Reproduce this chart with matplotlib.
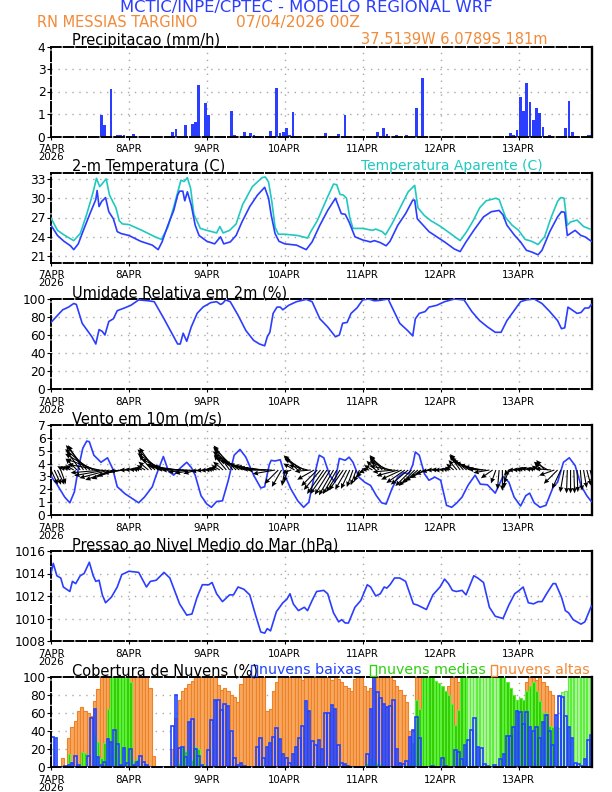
import numpy as np
import matplotlib
matplotlib.use("Agg")
import matplotlib.pyplot as plt

# ---------------- data ----------------
day_ticks = [0, 24, 48, 72, 96, 120, 144]
day_labels = ["7APR\n2026", "8APR", "9APR", "10APR", "11APR", "12APR", "13APR"]

# precipitation (mm/h): hour -> value, only non zero bars
prec_hour = [15, 16, 18, 20, 21, 22, 25, 37, 38, 41, 43, 44, 45, 47, 48, 55, 56, 59, 61, 62,
             67, 69, 70, 71, 72, 73, 74, 84, 88, 90, 100, 102, 103, 106, 109, 112, 114,
             141, 142, 143, 144, 145, 146, 147, 148, 149, 150, 151, 153, 158, 159, 160, 165, 166]
prec_val = [0.95, 0.5, 2.1, 0.05, 0.05, 0.05, 0.1, 0.2, 0.35, 0.5, 0.55, 0.65, 2.28, 1.5, 0.95, 1.15, 0.05, 0.2, 0.15, 0.05,
            0.25, 2.15, 0.15, 0.2, 0.4, 0.05, 1.1, 0.15, 0.1, 0.95, 0.2, 0.4, 0.1, 0.05, 0.05, 1.25, 2.6,
            0.15, 0.05, 0.3, 1.75, 1.15, 2.38, 1.55, 0.75, 1.28, 1.05, 0.42, 0.05, 0.38, 1.58, 0.2, 0.05, 0.08]

# 2 m temperature (C)
temp_t = [0, 2, 4, 6, 7, 8.4, 10.2, 12, 13.8, 14.2, 14.8, 15.6, 16.8, 17.8, 19.2, 20.4, 21.6, 24, 27.6, 31.2, 33,
          34.2, 36, 37.8, 39, 39.6, 40.6, 41.2, 42, 43.2, 44.4, 45.6, 48, 50.4, 52.2, 53.2, 55.2, 57, 58.8, 61.2,
          63.6, 65.8, 67, 67.8, 69, 70.2, 72, 75.6, 78.6, 80.4, 82.8, 85.2, 87.6, 89.4, 90.6, 91.8, 93.6, 96, 98.4,
          99.6, 101.4, 103.2, 104.4, 106.8, 109.2, 111.4, 112, 112.8, 114.6, 116.4, 118.8, 121.2, 124.2, 126, 127.8,
          130.2, 133.2, 135.6, 138, 139.2, 140.4, 142.8, 144.6, 146.4, 148.2, 150, 151.2, 153.6, 156, 157.2, 158.2,
          159, 160.2, 161.4, 163.2, 164.4, 166.4]
temp_v = [25.8, 24.2, 23.3, 22.6, 22.0, 22.9, 25.3, 27.6, 29.8, 31.2, 28.7, 29.5, 30.1, 27.9, 26.8, 24.8, 24.5, 24.2, 23.3, 22.7, 22.0,
          23.2, 25.8, 28.1, 30.5, 31.1, 31.1, 29.6, 31.0, 28.9, 25.8, 24.2, 23.3, 22.9, 24.0, 22.9, 23.2, 24.2, 26.3, 28.7,
          30.5, 31.7, 30.0, 27.4, 24.5, 23.3, 22.9, 22.7, 22.0, 23.2, 25.8, 28.1, 30.0, 27.6, 27.5, 26.3, 24.0, 23.5, 23.2,
          23.4, 23.1, 22.6, 23.3, 25.8, 27.6, 29.7, 29.7, 26.8, 25.8, 24.8, 24.0, 23.2, 22.1, 21.7, 23.2,
          25.0, 27.1, 27.9, 28.1, 27.4, 25.8, 24.2, 23.2, 21.9, 21.6, 21.2, 21.9, 24.8, 27.1, 27.9, 27.8,
          24.2, 24.6, 25.0, 24.2, 24.0, 23.3]

# apparent temperature (C)
tapp_t = [0, 2, 4, 7, 9, 11, 13, 14, 15, 17, 18, 20, 21, 22, 24, 28, 32, 34, 36, 38, 40, 41, 42, 43, 44, 46, 48, 51,
          52, 53, 55, 57, 59, 62, 65, 66, 67, 68, 69, 70, 72, 76, 79, 80, 82, 85, 87, 88, 89, 90, 91, 92, 93, 96, 99,
          100, 102, 103, 105, 108, 110, 112, 113, 115, 117, 120, 123, 126, 128, 130, 132, 134, 137, 138, 140, 142,
          144, 146, 148, 150, 152, 154, 156, 157, 158, 159, 160, 162, 164, 166]
tapp_v = [26.9, 25.0, 24.3, 23.4, 24.5, 27.5, 31.0, 33.1, 31.8, 33.0, 30.5, 28.5, 26.5, 26.0, 25.9, 25.0, 24.0, 23.6,
          25.5, 29.0, 32.8, 32.6, 33.2, 31.5, 27.5, 25.3, 25.0, 24.6, 25.6, 24.6, 25.0, 26.0, 29.0, 31.8, 33.2, 33.3,
          32.5, 29.5, 25.5, 24.4, 24.4, 24.2, 23.8, 24.8, 26.5, 30.0, 32.2, 32.1, 30.6, 30.5, 30.0, 27.0, 25.3, 25.3,
          25.0, 25.2, 24.8, 24.3, 26.0, 29.0, 31.0, 32.0, 28.5, 27.3, 26.5, 25.6, 24.5, 23.4, 24.8, 26.5, 28.5, 29.6,
          30.0, 29.8, 27.0, 25.8, 25.0, 23.6, 23.3, 22.8, 24.0, 27.0, 29.5, 30.1, 30.0, 25.8, 26.3, 26.6, 25.6, 25.2]

# relative humidity (%)
rh_t = [0, 1.8, 3.6, 5.4, 7, 7.8, 9.6, 10.8, 12.6, 13.8, 14.8, 15.8, 16.6, 17.8, 19.2, 20.4, 22.6, 24.6, 27, 30,
        31.8, 34.8, 37.2, 39, 39.8, 40.7, 41.8, 43.2, 45, 46.8, 49.2, 51, 52.2, 52.8, 53.8, 55.2, 57.6, 60, 62.4,
        64.2, 65.8, 66.6, 67.4, 68.4, 69.6, 70.6, 71.4, 73.2, 75.6, 78.6, 80.4, 82.8, 85.2, 87.6, 88.8, 89.8, 91.2,
        92.4, 94.2, 96, 97.8, 99.6, 101.4, 103.8, 105, 107.4, 109.8, 111.4, 112.2, 113.4, 115.2, 116.4, 118.8,
        121.2, 124.2, 127.2, 129.6, 132, 134.4, 136.8, 138.6, 140.4, 142.8, 144.6, 146.4, 148.8, 151.2, 153.6,
        156, 157.2, 158.2, 159.2, 160.8, 162, 163.2, 164.4, 165.6, 166.4]
rh_v = [74, 81, 88, 91, 95, 94, 73, 67, 58, 50, 66, 64, 60, 75, 78, 87, 90, 93, 99, 98,
        97, 78, 62, 50, 50, 62, 53, 69, 84, 91, 96, 97, 94, 95, 99, 97, 82, 65, 54,
        50, 48, 58, 63, 84, 91, 91, 88, 93, 97, 99.6, 97, 78, 69, 58, 60, 73, 74,
        84, 90, 99, 100, 98, 98.5, 100, 91, 73, 65, 59, 78, 84, 86, 91, 93,
        97, 100, 99, 86, 76, 69, 63, 63, 76, 88, 97, 99, 100, 95, 86,
        76, 67, 68, 91, 87, 84, 85, 90, 90, 94]

# wind speed at 10 m (m/s)
ws_t = [0, 1.8, 4.2, 5.8, 7.2, 8.4, 9.8, 11, 11.8, 13.2, 15.4, 17.4, 19, 20.4, 22.8, 25.2, 27, 28.8, 31.2, 32.4,
        34.6, 36.2, 37.8, 39.6, 41.8, 43.2, 44.4, 46.2, 48, 49.4, 51, 52.8, 54.6, 56.4, 58.2, 60, 62.4, 64.6,
        65.8, 67.2, 67.8, 69, 70.6, 72, 73.8, 76, 77.8, 79.4, 81, 82.6, 84, 85.8, 87.4, 88.8, 90.6, 91.8, 93,
        94.8, 96.6, 98.4, 100.2, 101.8, 103.2, 105, 106.8, 108.6, 110.2, 111.4, 112.2, 113.4, 115, 116.4, 118.2,
        120, 121.8, 123.4, 125, 126.6, 128.4, 130.6, 132.2, 134.4, 136.8, 139.2, 141, 142.6, 144.6, 146.2,
        147.4, 148.8, 150.6, 152.4, 154.6, 156, 157.8, 159.6, 161.4, 163.2, 165, 166.4]
ws_v = [3.0, 2.4, 1.4, 0.95, 1.8, 3.6, 5.2, 5.75, 5.7, 4.65, 4.1, 4.45, 3.6, 2.2, 1.65, 1.25, 0.95, 1.4, 2.2, 3.1,
        4.55, 3.4, 3.1, 3.6, 4.1, 3.7, 3.1, 1.5, 0.85, 0.6, 1.05, 1.1, 2.7, 4.65, 5.1, 4.5, 3.1, 2.1,
        2.2, 3.9, 4.25, 4.2, 4.3, 3.1, 2.05, 1.1, 0.6, 1.0, 2.95, 4.65, 4.45, 3.1, 2.55, 4.4, 4.25, 4.5, 4.1,
        2.95, 2.55, 2.3, 1.5, 0.95, 0.85, 2.05, 2.95, 3.3, 3.2, 3.9, 4.9, 4.65, 3.2, 2.7, 2.95,
        2.7, 0.75, 0.6, 0.95, 1.4, 2.3, 3.1, 2.4, 2.35, 1.7, 3.0, 2.55, 1.4, 0.7, 1.5,
        1.7, 0.95, 0.6, 0.75, 2.15, 2.55, 4.1, 4.45, 3.85, 2.3, 1.5, 1.05]

# hourly wind vectors: direction the arrow points (deg, 0 = east, 90 = north) and length (m/s)
vec_dir = [295, 295, 295, 290, 150, 150, 150, 150, 135, 125, 122, 130, 140, 150, 160, 170, 185, 190, 195, 200, 200, 195, 190, 185,
           180, 175, 170, 165, 160, 150, 140, 130, 125, 135, 145, 155, 165, 170, 170, 172, 175, 178, 180, 185, 190, 195, 190, 185,
           185, 175, 165, 160, 150, 140, 130, 125, 128, 135, 145, 152, 158, 162, 165, 168, 170, 172, 175, 178, 180, 190, 225, 240,
           260, 250, 200, 150, 135, 140, 150, 165, 185, 210, 225, 230, 235, 235, 238, 240, 240, 238, 235, 240, 245, 250, 250, 245,
           230, 200, 170, 150, 135, 125, 130, 140, 155, 170, 185, 195, 205, 215, 220, 225, 225, 220, 215, 210, 200, 190, 180, 175,
           180, 170, 160, 150, 140, 130, 125, 130, 140, 148, 155, 160, 165, 170, 178, 190, 215, 250, 265, 270, 265, 250, 210, 180,
           175, 170, 165, 160, 160, 155, 145, 135, 130, 150, 175, 200, 225, 245, 260, 268, 270, 272, 272, 275, 280, 285, 285]
vec_spd = [2.5, 2.5, 2.5, 2.3, 1.2, 1.2, 1.2, 1.5, 2.5, 3.5, 4.5, 5.0, 5.0, 5.0, 5.0, 5.0, 5.0, 5.0, 4.8, 4.5, 4.0, 3.5, 3.0, 2.5,
           1.5, 1.2, 1.0, 1.0, 1.2, 1.5, 2.0, 3.0, 4.2, 4.5, 4.5, 4.0, 3.5, 3.5, 3.5, 3.8, 4.0, 4.2, 4.0, 3.5, 3.0, 2.2, 1.5, 1.2,
           1.0, 0.9, 1.0, 1.2, 1.5, 2.0, 3.0, 4.0, 4.8, 5.0, 5.0, 5.0, 5.0, 4.8, 4.5, 4.2, 4.0, 4.0, 4.0, 4.0, 3.8, 3.5, 3.0, 3.0,
           2.5, 2.0, 1.5, 2.0, 3.0, 3.5, 3.5, 3.0, 2.5, 3.0, 3.5, 4.0, 4.5, 4.5, 4.5, 4.5, 4.3, 4.0, 3.8, 3.5, 3.2, 2.8, 2.5, 2.0,
           1.5, 1.2, 1.2, 1.5, 2.0, 2.5, 3.0, 3.2, 3.2, 3.5, 3.5, 3.5, 3.5, 3.5, 3.5, 3.5, 3.5, 3.2, 3.0, 2.5, 2.0, 1.5, 1.2, 1.0,
           1.0, 0.8, 0.8, 1.0, 1.5, 2.0, 2.8, 3.2, 3.5, 3.5, 3.5, 3.5, 3.2, 3.0, 2.8, 2.5, 2.2, 2.2, 3.0, 3.2, 2.8, 2.2, 1.5, 1.2,
           1.0, 1.0, 1.2, 1.2, 1.0, 1.0, 1.2, 1.5, 2.0, 2.5, 2.5, 2.5, 3.0, 3.2, 3.5, 3.6, 3.6, 3.6, 3.4, 3.2, 2.8, 2.5, 2.2]

# mean sea level pressure (hPa)
slp_t = [0, 0.7, 1.8, 3, 3.8, 5.8, 6.6, 7.6, 9, 10.2, 11.8, 13, 13.8, 14.8, 15.8, 16.8, 18.6, 20.4, 21.8, 24, 27,
         29.4, 30.6, 32.4, 34.8, 36.6, 39.6, 41.8, 43.4, 45, 46.6, 48.6, 49.6, 51, 52.8, 55, 56.2, 57.6, 59.4, 61.2,
         63, 64.6, 65.8, 66.6, 67.6, 69.4, 71.4, 72.6, 73.6, 74.6, 76.2, 78, 79, 80.4, 81.8, 84, 85.2, 87, 88.6,
         89.5, 90.6, 91.6, 93.6, 95.4, 97.4, 98.4, 100, 101.4, 102.6, 103.4, 104.4, 105.8, 107.4, 109.2, 111.6,
         112.8, 114.2, 115.6, 117.6, 119.8, 121.2, 122.4, 123.6, 124.8, 126.6, 127.8, 130.2, 131.4, 133.2, 135,
         136.8, 139.2, 141, 142.8, 144.2, 145.4, 147, 148.6, 150, 151.2, 152.4, 154.6, 155.4, 157.2, 158.4,
         159.4, 160.8, 163.2, 164.4, 166.4]
slp_v = [1014.0, 1014.9, 1013.8, 1013.6, 1012.8, 1012.4, 1013.3, 1013.1, 1013.8, 1014.0, 1015.0, 1013.8, 1013.3,
         1013.4, 1012.1, 1011.4, 1011.9, 1012.8, 1013.9, 1014.2, 1014.1, 1012.8, 1013.3, 1013.4, 1014.1, 1013.6,
         1011.3, 1010.3, 1010.4, 1011.9, 1013.0, 1013.0, 1013.2, 1012.2, 1011.5, 1012.1, 1012.1, 1012.8, 1012.6,
         1012.1, 1010.3, 1008.8, 1008.7, 1009.1, 1008.9, 1010.6, 1011.4, 1011.7, 1012.2, 1011.3, 1010.7, 1011.0,
         1010.7, 1011.6, 1012.4, 1012.5, 1012.2, 1010.5, 1009.7, 1009.9, 1009.6, 1009.6, 1011.0, 1011.6, 1013.0,
         1012.8, 1012.0, 1012.2, 1012.8, 1012.7, 1013.0, 1013.6, 1013.6, 1013.3, 1011.3, 1011.2, 1011.0, 1010.8,
         1012.1, 1012.8, 1013.5, 1013.1, 1012.5, 1012.4, 1012.5, 1012.1, 1013.8, 1013.6, 1013.2, 1011.0, 1010.2,
         1010.0, 1011.2, 1012.2, 1012.5, 1012.8, 1011.4, 1011.3, 1011.5, 1011.5, 1012.1, 1013.1, 1013.1, 1011.9,
         1010.7, 1010.5, 1009.9, 1009.5, 1009.7, 1011.1]

# cloud cover (%), hourly from 7APR 00Z
cld_low = [33, 32, 0, 0, 1, 2, 5, 12, 2, 0, 0, 12, 55, 65, 11, 2, 6, 31, 28, 41, 26, 2, 21, 4,
           20, 2, 6, 12, 6, 2, 0, 0, 0, 0, 0, 0, 0, 46, 80, 21, 22, 11, 50, 53, 20, 12, 2, 0,
           19, 52, 75, 75, 63, 70, 68, 40, 10, 2, 4, 1, 0, 0, 0, 22, 32, 10, 22, 27, 33, 43, 31, 14,
           10, 5, 15, 22, 32, 46, 73, 62, 29, 25, 30, 20, 60, 60, 69, 65, 24, 5, 3, 1, 0, 0, 0, 0,
           0, 15, 64, 100, 83, 77, 70, 67, 68, 74, 20, 5, 3, 7, 33, 41, 56, 32, 0, 0, 0, 1, 0, 0,
           10, 1, 0, 0, 19, 17, 9, 24, 30, 41, 54, 22, 21, 3, 1, 0, 2, 0, 9, 15, 34, 35, 45, 62,
           61, 48, 61, 45, 40, 44, 32, 50, 58, 40, 25, 58, 79, 78, 57, 45, 32, 5, 3, 1, 9, 30, 36, 45]
cld_mid = [0, 0, 0, 0, 0, 14, 0, 0, 0, 17, 16, 0, 0, 37, 28, 10, 27, 65, 100, 100, 100, 100, 100, 100,
           95, 7, 9, 2, 0, 0, 0, 0, 0, 0, 0, 0, 0, 0, 12, 5, 22, 18, 20, 8, 22, 20, 3, 2,
           0, 0, 2, 0, 0, 0, 0, 0, 0, 0, 0, 0, 0, 0, 0, 0, 0, 0, 0, 0, 0, 0, 0, 0,
           0, 0, 0, 0, 0, 0, 0, 0, 0, 0, 5, 0, 0, 0, 0, 5, 0, 0, 0, 0, 0, 0, 0, 0,
           0, 5, 10, 8, 5, 3, 2, 0, 0, 0, 0, 0, 0, 2, 5, 27, 74, 65, 100, 100, 100, 100, 96, 93,
           90, 85, 80, 70, 47, 63, 100, 100, 100, 100, 100, 100, 100, 100, 100, 100, 100, 100, 100, 100, 95, 88, 80, 74,
           77, 74, 85, 90, 94, 85, 73, 60, 60, 46, 45, 45, 43, 83, 85, 100, 100, 100, 100, 100, 100, 100, 100, 100]
cld_high = [0, 0, 0, 10, 0, 32, 44, 51, 62, 67, 62, 60, 57, 73, 87, 100, 100, 100, 100, 100, 100, 100, 100, 100,
            100, 100, 100, 100, 100, 100, 88, 12, 0, 0, 0, 0, 0, 20, 55, 75, 85, 88, 92, 96, 100, 100, 100, 100,
            100, 100, 100, 91, 86, 88, 85, 80, 78, 72, 92, 100, 100, 100, 100, 100, 100, 100, 62, 65, 85, 95, 100, 100,
            100, 100, 100, 100, 100, 97, 100, 100, 100, 100, 100, 100, 100, 100, 97, 100, 98, 95, 90, 88, 85, 98, 100, 100,
            90, 85, 88, 100, 100, 100, 100, 100, 100, 97, 90, 86, 80, 72, 40, 20, 100, 100, 100, 98, 95, 90, 88, 85,
            82, 85, 90, 100, 100, 95, 90, 85, 0, 0, 0, 0, 0, 0, 0, 0, 0, 0, 80, 85, 90, 85, 80, 75,
            70, 70, 95, 100, 100, 97, 100, 95, 90, 85, 80, 0, 0, 0, 0, 0, 0, 0, 0, 0, 0, 0, 0, 0]

# ---------------- styling ----------------
BLUE = "#2b3dff"
ORANGE = "#f28a38"
CYAN = "#20c8c0"
GRID = "#a8a8a8"
XMAX = 166.6
TICKFONT = dict(fontsize=8.2, fontstretch='condensed')

plt.rcParams['font.family'] = ['DejaVu Sans']

fig = plt.figure(figsize=(6.12, 7.92), dpi=100)
W, H = 612.0, 792.0
L, R = 51.0, 592.0
tops = [46.5, 172.5, 299.0, 425.0, 551.0, 677.0]
PH = 90.0


def make_ax(top, ylim, yticks):
    ax = fig.add_axes([L / W, 1 - (top + PH) / H, (R - L) / W, PH / H])
    ax.set_xlim(0, XMAX)
    ax.set_ylim(*ylim)
    ax.set_yticks(yticks)
    ax.set_yticklabels([str(t) for t in yticks], fontsize=8.8)
    ax.set_xticks(day_ticks)
    ax.set_xticklabels(day_labels, linespacing=0.78, **TICKFONT)
    ax.tick_params(axis='y', length=3, width=0.8, pad=1)
    ax.tick_params(axis='x', length=2, width=0.8, pad=3.5)
    # dotted grid, skip the frame lines
    for d in day_ticks[1:]:
        ax.axvline(d, color=GRID, lw=1.0, ls=(0, (1, 4)), zorder=0.5)
    for yv in yticks:
        if ylim[0] < yv < ylim[1]:
            ax.axhline(yv, color=GRID, lw=1.0, ls=(0, (1, 4)), zorder=0.5)
    for s in ['left', 'top', 'bottom']:
        ax.spines[s].set_linestyle((0, (5, 1.5)))
        ax.spines[s].set_linewidth(1.4)
    ax.spines['right'].set_linewidth(1.7)
    return ax


def title(top, txt, x=72, color='black', size=10.5):
    fig.text(x / W, 1 - (top - 6.5) / H, txt, color=color, fontsize=size,
             va='center', ha='left')


# header
fig.text(306 / W, 1 - 7.5 / H, "MCTIC/INPE/CPTEC - MODELO REGIONAL WRF", color=BLUE,
         fontsize=11.8, ha='center', va='center')
fig.text(37 / W, 1 - 22.5 / H, "RN MESSIAS TARGINO", color=ORANGE, fontsize=10.5, va='center')
fig.text(236 / W, 1 - 22.5 / H, "07/04/2026 00Z", color=ORANGE, fontsize=11.2, va='center')

# 1 precipitation
ax1 = make_ax(tops[0], (0, 4), [0, 1, 2, 3, 4])
ax1.bar(np.array(prec_hour) + 0.5, prec_val, width=0.85, color=BLUE, linewidth=0, zorder=2)
title(tops[0], "Precipitacao (mm/h)")
title(tops[0], "37.5139W 6.0789S 181m", x=361, color=ORANGE)

# 2 temperature
ax2 = make_ax(tops[1], (20, 34), [21, 24, 27, 30, 33])
ax2.plot(tapp_t, tapp_v, color=CYAN, lw=1.2, zorder=3)
ax2.plot(temp_t, temp_v, color=BLUE, lw=1.2, zorder=3)
title(tops[1], "2-m Temperatura (C)")
title(tops[1], "Temperatura Aparente (C)", x=361, color=CYAN, size=10)

# 3 relative humidity
ax3 = make_ax(tops[2], (0, 100), [0, 20, 40, 60, 80, 100])
ax3.plot(rh_t, rh_v, color=BLUE, lw=1.2, zorder=3)
title(tops[2], "Umidade Relativa em 2m (%)")

# 4 wind
ax4 = make_ax(tops[3], (0, 7), [0, 1, 2, 3, 4, 5, 6, 7])
ax4.plot(ws_t, ws_v, color=BLUE, lw=1.2, zorder=3)
vec_t = np.arange(len(vec_dir))
ang = np.radians(vec_dir)
u = np.array(vec_spd) * np.cos(ang)
v = np.array(vec_spd) * np.sin(ang)
ax4.quiver(vec_t, np.full(len(vec_t), 3.5), u, v, angles='uv', scale_units='dots', scale=1 / 6.5,
           pivot='tail', units='dots', width=1.1, headwidth=4.5, headlength=5, headaxislength=4.5,
           color='black', zorder=4)
title(tops[3], "Vento em 10m (m/s)")

# 5 pressure
ax5 = make_ax(tops[4], (1008, 1016), [1008, 1010, 1012, 1014, 1016])
ax5.plot(slp_t, slp_v, color=BLUE, lw=1.2, zorder=3)
title(tops[4], "Pressao ao Nivel Medio do Mar (hPa)")

# 6 clouds
ax6 = make_ax(tops[5], (0, 100), [0, 20, 40, 60, 80, 100])
hrs = np.arange(len(cld_high)) + 0.5
mid_fill = ["#33cc00" if hi > 0 else "#b4f0a4" for hi in cld_high]
ax6.bar(hrs, cld_high, width=1.0, color="#f6a862", edgecolor="#f08020", linewidth=0.8, zorder=2)
ax6.bar(hrs, cld_mid, width=0.8, color=mid_fill, edgecolor="#5cf03c", linewidth=0.8, zorder=2.2)
ax6.bar(hrs, cld_low, width=0.8, color='none', edgecolor="#2244ff", linewidth=1.2, zorder=2.4)
title(tops[5], "Cobertura de Nuvens (%)")
for x0, txt, col in [(251, "nuvens baixas", "#2244ff"), (370, "nuvens medias", "#30d010"),
                     (491, "nuvens altas", ORANGE)]:
    fig.patches.append(plt.Rectangle((x0 / W, 1 - (tops[5] - 1) / H), 6 / W, 11 / H,
                                     transform=fig.transFigure, fill=False, edgecolor=col, lw=1.0))
    fig.text((x0 + 8) / W, 1 - (tops[5] - 6.5) / H, txt, color=col, fontsize=10.2, va='center')

fig.savefig("out.png", dpi=100)
